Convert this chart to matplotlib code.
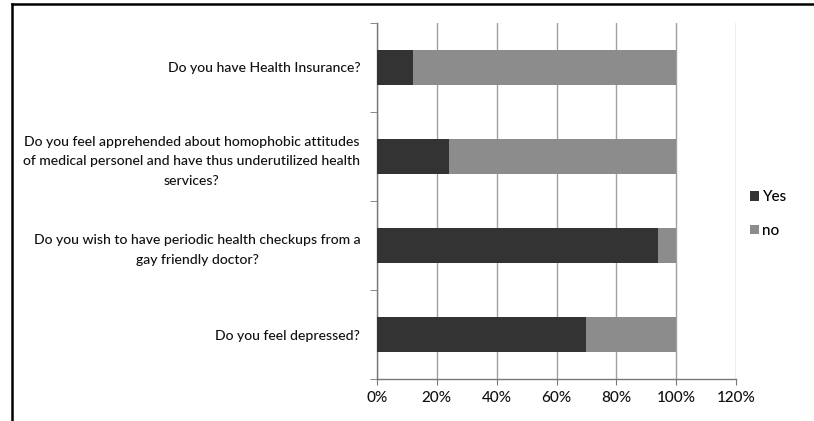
import matplotlib
matplotlib.use("Agg")
import matplotlib.pyplot as plt
from matplotlib.lines import Line2D
from matplotlib.ticker import FixedLocator

categories = [
    "Do you have Health Insurance?",
    "Do you feel apprehended about homophobic attitudes\nof medical personel and have thus underutilized health\nservices?",
    "Do you wish to have periodic health checkups from a\ngay friendly doctor?",
    "Do you feel depressed?",
]
yes_vals = [12, 24, 94, 70]
no_vals = [88, 76, 6, 30]
xtick_vals = [0, 20, 40, 60, 80, 100, 120]
xtick_labels = ["0%", "20%", "40%", "60%", "80%", "100%", "120%"]

plt.rcParams['font.family'] = ['Lato', 'DejaVu Sans']

fig = plt.figure(figsize=(8.14, 4.21), dpi=100)
ax = fig.add_axes([377/814, 1 - 379/421, (736 - 377)/814, (379 - 23)/421])

ypos = list(range(len(categories)))
ax.barh(ypos, yes_vals, height=0.4, color="#333333", label="Yes", zorder=3)
ax.barh(ypos, no_vals, left=yes_vals, height=0.4, color="#8c8c8c", label="no", zorder=3)

ax.set_xlim(0, 120)
ax.set_ylim(3.5, -0.5)
ax.set_xticks(xtick_vals)
ax.set_xticklabels(xtick_labels, fontsize=11, color='#111111', fontweight='medium')
ax.set_yticks(ypos)
ax.set_yticklabels(categories, fontsize=10.1, multialignment='center',
                   linespacing=1.75, color='#111111', fontweight='medium')
ax.yaxis.set_minor_locator(FixedLocator([-0.5, 0.5, 1.5, 2.5, 3.5]))
ax.tick_params(axis='y', which='major', length=0, pad=12)
ax.tick_params(axis='y', which='minor', length=5, color='#777777', direction='out')
ax.tick_params(axis='x', length=4, color='#777777', direction='out', pad=5)

ax.grid(axis='x', color='#a0a0a0', linewidth=1, zorder=0)
for s in ['top', 'right']:
    ax.spines[s].set_visible(False)
for s in ['left', 'bottom']:
    ax.spines[s].set_color('#777777')
    ax.spines[s].set_linewidth(1)

fig.legend(loc='center left', bbox_to_anchor=(736/814, 1 - 214/421), frameon=False,
           handlelength=0.6, handleheight=0.6, handletextpad=0.2, labelspacing=1.3,
           prop={'size': 11, 'weight': 'medium'})

# border lines (top and left)
fig.add_artist(Line2D([12/814, 12/814], [0, 1 - 4/421], transform=fig.transFigure,
                      color='black', linewidth=1.8))
fig.add_artist(Line2D([12/814, 1], [1 - 4/421, 1 - 4/421], transform=fig.transFigure,
                      color='black', linewidth=1.8))

fig.savefig("out.png", dpi=100)
